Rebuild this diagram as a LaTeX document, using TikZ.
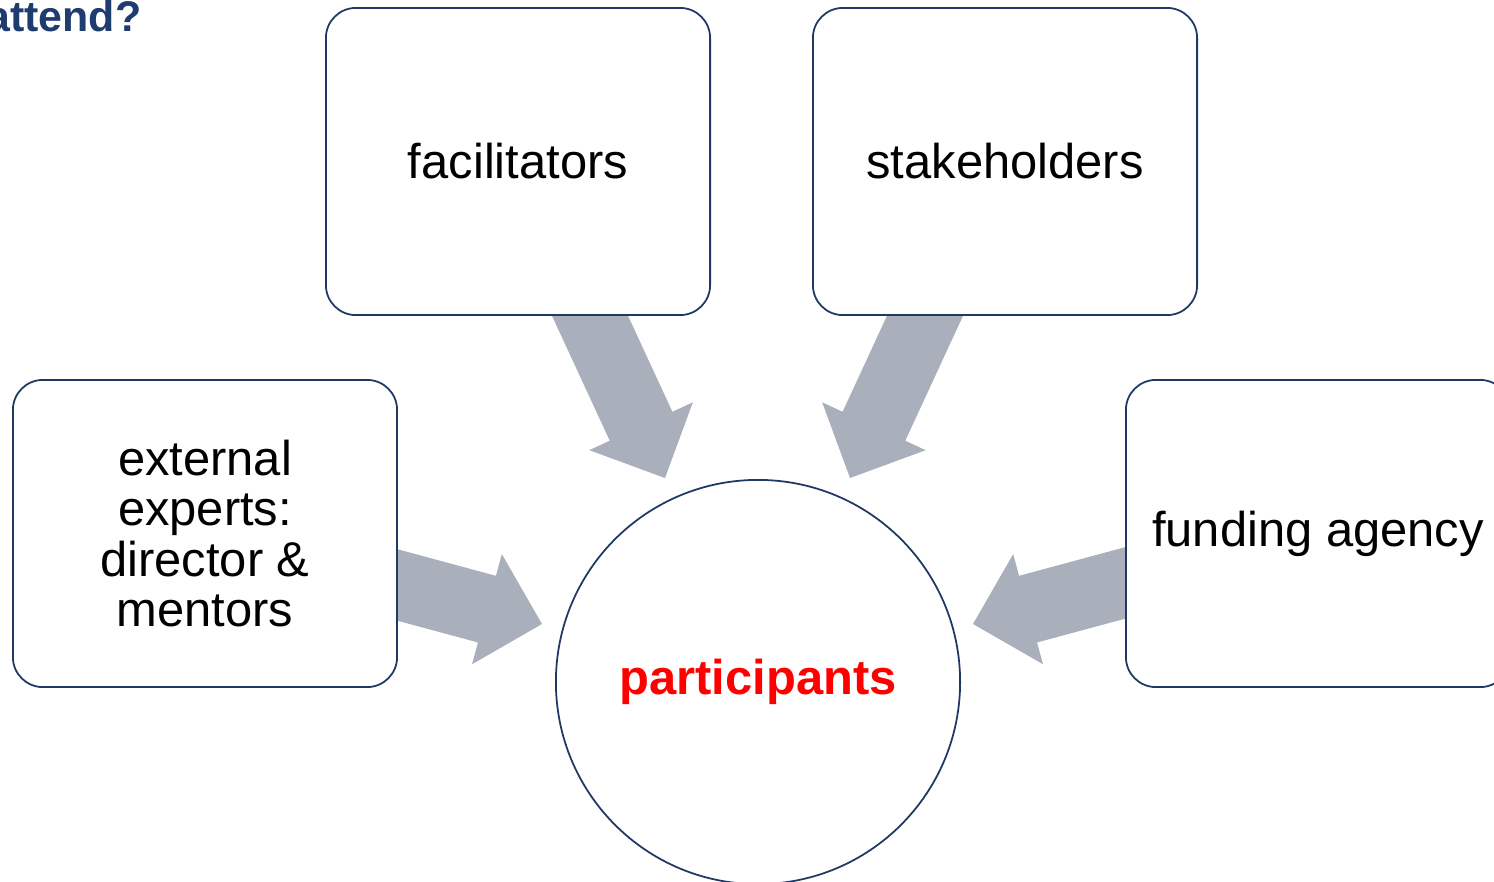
\documentclass[tikz,border=0pt]{standalone}
\usepackage{fontspec}
\setmainfont{Liberation Sans}
\usepackage{xcolor}
\usetikzlibrary{calc,backgrounds}

\definecolor{boxblue}{RGB}{31,56,100}
\definecolor{arrowgray}{RGB}{169,175,187}
\definecolor{titleblue}{RGB}{31,60,110}

% wide block arrow from #1 to the tip #2
\newcommand{\blockarrow}[2]{%
  \coordinate (ah) at ($(#2)!0.57cm!(#1)$);
  \fill[arrowgray] ($(#1)!0.345cm!90:(#2)$) -- ($(ah)!0.345cm!90:(#2)$)
    -- ($(ah)!0.57cm!90:(#2)$) -- (#2) -- ($(ah)!0.57cm!-90:(#2)$)
    -- ($(ah)!0.345cm!-90:(#2)$) -- ($(#1)!0.345cm!-90:(#2)$) -- cycle;
}

\begin{document}
\begin{tikzpicture}[x=0.01cm, y=-0.01cm,
  box/.style={draw=boxblue, line width=0.5pt, fill=white, rounded corners=0.3cm,
    minimum width=3.84cm, minimum height=3.07cm, align=center, inner sep=0,
    font=\fontsize{13.9}{14.3}\selectfont},
  hub/.style={circle, draw=boxblue, line width=0.5pt, fill=white, minimum size=4.04cm,
    inner sep=0, text=red, font=\fontsize{13.9}{14.3}\selectfont\bfseries}]
\useasboundingbox (0,0) rectangle (1494,881);

\node[anchor=base east, inner sep=0, text=titleblue, font=\fontsize{12.2}{14}\selectfont\bfseries]
  (title) at (142,31) {attend?};

\node[box] (fac) at (518,161.5) {facilitators};
\node[box] (stake) at (1005,161.5) {stakeholders};
\node[box] (ext) at (205,533.5) {external\\experts:\\director \&\\mentors};
\node[box] (fund) at (1318,533.5) {funding agency};
\node[hub] (part) at (758,682) {participants};

% arrows behind the boxes
\coordinate (fac-out) at ($(fac.center)+(58,124)$);
\coordinate (stake-out) at ($(stake.center)+(-66,124)$);
\coordinate (ext-out) at ($(ext.center)+(163,43.5)$);
\coordinate (fund-out) at ($(fund.center)+(-171,43.5)$);
\coordinate (part-nw) at ($(part.center)+(-93,-204)$);
\coordinate (part-ne) at ($(part.center)+(92,-204)$);
\coordinate (part-w) at ($(part.center)+(-216,-58)$);
\coordinate (part-e) at ($(part.center)+(215,-58)$);

\begin{pgfonlayer}{background}
\blockarrow{fac-out}{part-nw}
\blockarrow{stake-out}{part-ne}
\blockarrow{ext-out}{part-w}
\blockarrow{fund-out}{part-e}
\end{pgfonlayer}

\end{tikzpicture}
\end{document}
